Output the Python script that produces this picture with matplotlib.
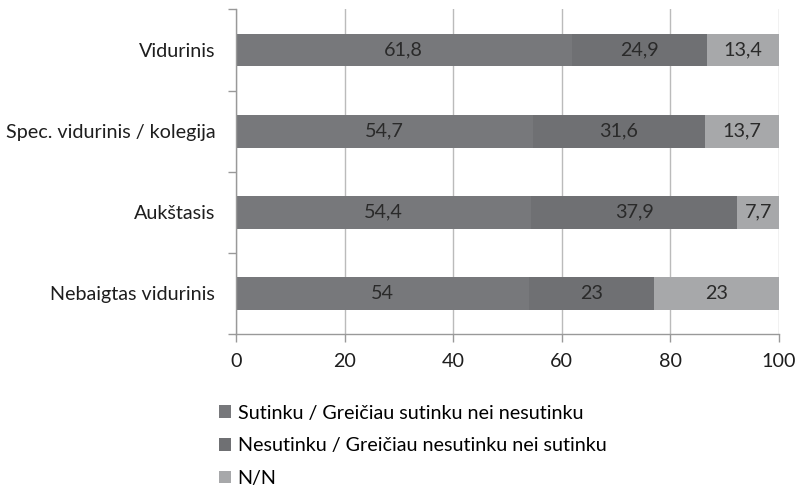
import matplotlib
matplotlib.use("Agg")
import matplotlib.pyplot as plt
import numpy as np

plt.rcParams['font.family'] = ['Lato', 'DejaVu Sans']

# data, top to bottom as shown
categories = ["Vidurinis", "Spec. vidurinis / kolegija", "Aukštasis", "Nebaigtas vidurinis"]
agree = [61.8, 54.7, 54.4, 54]
disagree = [24.9, 31.6, 37.9, 23]
dont_know = [13.4, 13.7, 7.7, 23]
agree_lbl = ["61,8", "54,7", "54,4", "54"]
disagree_lbl = ["24,9", "31,6", "37,9", "23"]
dont_know_lbl = ["13,4", "13,7", "7,7", "23"]
series_names = ["Sutinku / Greičiau sutinku nei nesutinku",
                "Nesutinku / Greičiau nesutinku nei sutinku",
                "N/N"]
colors = ["#77787b", "#6f7073", "#a7a8aa"]
txt = '#1e1e1e'
fs = 14.2

fig = plt.figure(figsize=(7.99, 4.94), dpi=100)
ax = fig.add_axes([0.2954, 0.324, 0.6796, 0.657])

y = np.arange(len(categories))[::-1]
left = np.zeros(len(categories))
bars = []
for vals, lbls, col, name in zip([agree, disagree, dont_know],
                                 [agree_lbl, disagree_lbl, dont_know_lbl],
                                 colors, series_names):
    b = ax.barh(y, vals, left=left, height=0.405, color=col, label=name, zorder=2)
    ax.bar_label(b, labels=lbls, label_type='center', fontsize=fs, color='#2a2a2a')
    bars.append(b)
    left = left + np.array(vals)

ax.set_xlim(0, 100)
ax.set_ylim(-0.5, len(categories) - 0.5)
ax.set_xticks([0, 20, 40, 60, 80, 100])
ax.set_yticks(y)
ax.set_yticklabels(categories)
ax.set_yticks(np.arange(len(categories) + 1) - 0.5, minor=True)
ax.tick_params(axis='y', which='major', length=0, pad=15, labelsize=fs, labelcolor=txt)
ax.tick_params(axis='y', which='minor', length=6, color='#999999', width=1)
ax.tick_params(axis='x', length=6, color='#999999', width=1, labelsize=fs,
               labelcolor=txt, pad=8)
ax.grid(axis='x', color='#bbbbbb', linewidth=1, zorder=0)
for s in ['top', 'right']:
    ax.spines[s].set_visible(False)
for s in ['left', 'bottom']:
    ax.spines[s].set_color('#999999')
    ax.spines[s].set_linewidth(1)

fig.legend(handles=bars, loc='upper left', bbox_to_anchor=(0.264, 0.197),
           frameon=False, fontsize=fs, handlelength=0.6, handleheight=0.6,
           handletextpad=0.35, labelspacing=0.8, borderaxespad=0)

fig.savefig("out.png", dpi=100, facecolor='white')
